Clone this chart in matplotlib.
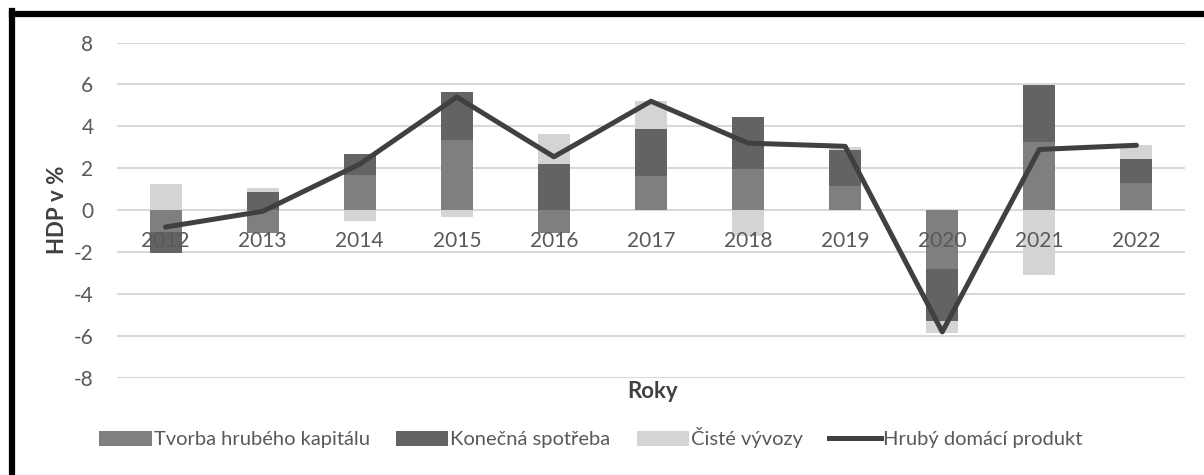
import matplotlib
matplotlib.use("Agg")
import matplotlib.pyplot as plt
from matplotlib.lines import Line2D
from matplotlib.patches import Patch
import numpy as np

plt.rcParams['font.family'] = ['Lato', 'DejaVu Sans']
plt.rcParams['axes.unicode_minus'] = False

years = ["2012", "2013", "2014", "2015", "2016", "2017", "2018", "2019", "2020", "2021", "2022"]
kapital = [-1.05, -1.1, 1.7, 3.33, -1.1, 1.62, 1.95, 1.16, -2.8, 3.25, 1.32]
spotreba = [-1.0, 0.87, 1.0, 2.3, 2.22, 2.24, 2.48, 1.73, -2.48, 2.73, 1.14]
vyvozy = [1.27, 0.2, -0.5, -0.3, 1.43, 1.33, -1.22, 0.12, -0.55, -3.1, 0.67]
hdp = [-0.8, -0.05, 2.2, 5.4, 2.55, 5.2, 3.2, 3.05, -5.8, 2.9, 3.1]

labels = ["Tvorba hrubého kapitálu", "Konečná spotřeba", "Čisté vývozy"]
colors = ["#7f7f7f", "#636363", "#d4d4d4"]
line_color = "#404040"
text_color = "#595959"

fig = plt.figure(figsize=(12.04, 4.75), dpi=100)
ax = fig.add_axes([0.0972, 0.2042, 0.887, 0.7063])

x = np.arange(len(years))
pos_bottom = np.zeros(len(years))
neg_bottom = np.zeros(len(years))
for series, color in zip([kapital, spotreba, vyvozy], colors):
    vals = np.array(series)
    bottom = np.where(vals >= 0, pos_bottom, neg_bottom)
    ax.bar(x, vals, width=0.33, bottom=bottom, color=color, zorder=2)
    pos_bottom += np.where(vals >= 0, vals, 0)
    neg_bottom += np.where(vals < 0, vals, 0)

ax.plot(x, hdp, color=line_color, lw=3.6, solid_capstyle='round', zorder=4)

ax.set_xlim(-0.5, len(years) - 0.5)
ax.set_ylim(-8, 8)
ax.set_yticks(range(-8, 9, 2))
ax.set_xticks(x)
ax.set_xticklabels(years)

ax.set_axisbelow(True)
ax.xaxis.set_zorder(3)
ax.grid(True, axis='y', color='#d9d9d9', lw=1.5)

for s in ['top', 'right', 'left']:
    ax.spines[s].set_visible(False)
ax.spines['bottom'].set_position(('data', 0))
ax.spines['bottom'].set_color('none')
ax.tick_params(axis='both', length=0, labelsize=15, labelcolor=text_color)
ax.tick_params(axis='x', pad=15)
ax.tick_params(axis='y', pad=17)

ax.set_ylabel("HDP v %", fontsize=16, fontweight='bold', color='#404040', labelpad=4)
fig.text(0.542, 1 - 392 / 475, "Roky", ha='center', va='center',
         fontsize=16, fontweight='bold', color='#404040')

handles = [Patch(facecolor=c, label=l) for c, l in zip(colors, labels)]
handles.append(Line2D([0], [0], color=line_color, lw=3.6, label="Hrubý domácí produkt"))
leg = fig.legend(handles=handles, loc='center', bbox_to_anchor=(0.491, 1 - 438 / 475),
                 ncol=4, frameon=False, fontsize=14.5, handlelength=2.6, handleheight=0.75,
                 handletextpad=0.1, columnspacing=1.3)
for t in leg.get_texts():
    t.set_color(text_color)

# black frame on left and top edges
fig.add_artist(Line2D([12 / 1204, 12 / 1204], [0, 1 - 11 / 475], color='black', lw=4.5,
                      transform=fig.transFigure, solid_capstyle='projecting'))
fig.add_artist(Line2D([12 / 1204, 1], [1 - 13.5 / 475, 1 - 13.5 / 475], color='black', lw=4.5,
                      transform=fig.transFigure))

fig.savefig("out.png", dpi=100, facecolor='white')
